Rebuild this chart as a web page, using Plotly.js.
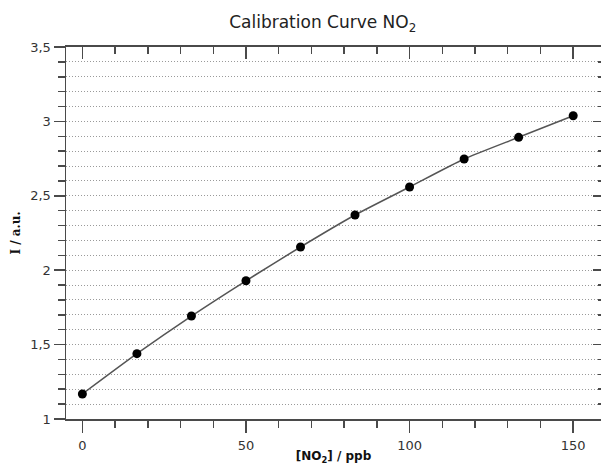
<!DOCTYPE html>
<html>
<head>
<meta charset="utf-8">
<script src="https://cdn.plot.ly/plotly-3.0.1.min.js"></script>
<style>html,body{margin:0;padding:0;background:#fff;}#chart{width:601px;height:465px;}</style>
</head>
<body>
<div id="chart"></div>
<script>
const concentration = [0, 16.67, 33.33, 50, 66.67, 83.33, 100, 116.67, 133.33, 150];
const intensity = [1.168, 1.439, 1.692, 1.929, 2.156, 2.371, 2.559, 2.747, 2.893, 3.038];
const xTicks = [0, 50, 100, 150];
const yTicks = [1, 1.5, 2, 2.5, 3, 3.5];
const chartTitle = 'Calibration Curve NO<sub>2</sub>';
const xTitle = '<b>[NO<sub>2</sub>] / ppb</b>';
const yTitle = '<b>I / a.u.</b>';

const axisColor = '#4a4a4a';
const font = 'DejaVu Sans, Verdana, sans-serif';
const xRange = [-5, 158.5];
const yRange = [1, 3.5];

const traces = [
  {
    x: concentration, y: intensity, mode: 'lines+markers', type: 'scatter',
    line: {color: '#555555', width: 1.5, shape: 'spline', smoothing: 0.6},
    marker: {color: '#000000', size: 9},
    hoverinfo: 'x+y', showlegend: false
  },
  {
    x: concentration, y: intensity, mode: 'lines', type: 'scatter',
    xaxis: 'x2', yaxis: 'y2', opacity: 0, hoverinfo: 'skip', showlegend: false,
    line: {width: 0}
  }
];

const layout = {
  width: 601, height: 465,
  margin: {l: 66, r: 0, t: 47, b: 46},
  paper_bgcolor: '#ffffff', plot_bgcolor: '#ffffff',
  separators: ', ',
  font: {family: font, color: '#333333', size: 12},
  showlegend: false,
  title: {text: chartTitle, x: 0.537, xanchor: 'center', y: 0.952, yanchor: 'middle',
          font: {family: font, size: 17, color: '#222222'}},
  xaxis: {
    range: xRange, tickvals: xTicks, ticks: 'outside', ticklen: 12, tickwidth: 1.5, tickcolor: axisColor,
    showline: true, linecolor: axisColor, linewidth: 1.5, showgrid: false, zeroline: false,
    tickfont: {family: font, size: 13, color: '#333333'}, ticklabelstandoff: 2,
    minor: {dtick: 10, tick0: 0, ticks: 'outside', ticklen: 7, tickwidth: 1.5, tickcolor: axisColor, showgrid: false},
    title: {text: xTitle, font: {family: font, size: 12, color: '#111111'}, standoff: 7}
  },
  xaxis2: {
    overlaying: 'x', side: 'top', anchor: 'y', range: xRange, tickvals: xTicks,
    ticks: 'inside', ticklen: 12, tickwidth: 1.5, tickcolor: axisColor, showticklabels: false,
    showline: true, linecolor: axisColor, linewidth: 2, showgrid: false, zeroline: false,
    minor: {dtick: 10, tick0: 0, ticks: 'inside', ticklen: 7, tickwidth: 1.5, tickcolor: axisColor, showgrid: false}
  },
  yaxis: {
    range: yRange, tickvals: yTicks, ticks: 'outside', ticklen: 11, tickwidth: 1.5, tickcolor: axisColor,
    showline: true, linecolor: axisColor, linewidth: 1.5, zeroline: false,
    showgrid: true, gridcolor: '#9a9a9a', gridwidth: 1, griddash: '1px,2px',
    tickfont: {family: font, size: 13, color: '#333333'},
    minor: {dtick: 0.1, tick0: 1, ticks: 'outside', ticklen: 7, tickwidth: 1.5, tickcolor: axisColor,
            showgrid: true, gridcolor: '#9a9a9a', gridwidth: 1, griddash: '1px,2px'},
    title: {text: yTitle, font: {family: 'DejaVu Serif, serif', size: 12, color: '#111111'}, standoff: 7}
  },
  yaxis2: {
    overlaying: 'y', side: 'right', anchor: 'x', range: yRange, tickvals: yTicks,
    ticks: 'inside', ticklen: 8, tickwidth: 1.5, tickcolor: axisColor, showticklabels: false,
    showline: true, linecolor: axisColor, linewidth: 1.5, showgrid: false, zeroline: false,
    minor: {dtick: 0.1, tick0: 1, ticks: 'inside', ticklen: 3, tickwidth: 1.5, tickcolor: axisColor, showgrid: false}
  }
};

Plotly.newPlot('chart', traces, layout, {displayModeBar: false, staticPlot: true});
</script>
</body>
</html>
